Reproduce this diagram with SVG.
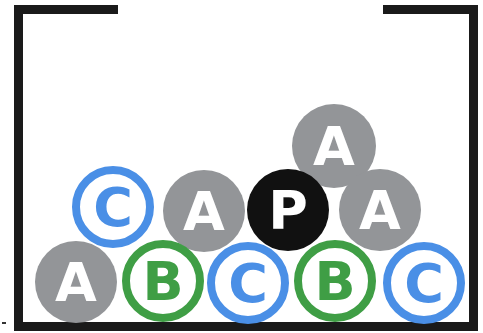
<svg xmlns="http://www.w3.org/2000/svg" width="483" height="333" viewBox="0 0 483 333">
<style>
.wall{fill:none;stroke:#1a1a1a;stroke-width:9;stroke-linejoin:miter}
.g{fill:#939598}
.k{fill:#111111}
.rb{fill:#ffffff;stroke:#4a8fe6;stroke-width:8}
.rg{fill:#ffffff;stroke:#3f9e45;stroke-width:8}
text{font-family:"DejaVu Sans","Verdana",sans-serif;font-weight:bold;font-size:54px;text-anchor:middle}
.tw{fill:#ffffff}
.tb{fill:#4a8fe6}
.tg{fill:#3f9e45}
</style>
<g id="container">
<path class="wall" d="M118,9.5 H18.5 V326.5 H473.5 V9.5 H383"/>
<rect x="2" y="322" width="4" height="2" fill="#333"/>
</g>
<g id="top-A"><circle class="g" cx="334" cy="146" r="42"/><text class="tw" x="334" y="165">A</text></g>
<g id="mid-C"><circle class="rb" cx="113" cy="207" r="37"/><text class="tb" x="113" y="226">C</text></g>
<g id="mid-A1"><circle class="g" cx="204" cy="211" r="41"/><text class="tw" x="204" y="230">A</text></g>
<g id="mid-P"><circle class="k" cx="288" cy="210" r="41"/><text class="tw" x="288" y="229">P</text></g>
<g id="mid-A2"><circle class="g" cx="380" cy="210" r="41"/><text class="tw" x="380" y="229">A</text></g>
<g id="bottom-A"><circle class="g" cx="76" cy="282" r="41"/><text class="tw" x="76" y="301">A</text></g>
<g id="bottom-B1"><circle class="rg" cx="163" cy="281" r="37"/><text class="tg" x="163" y="300">B</text></g>
<g id="bottom-C1"><circle class="rb" cx="248" cy="283" r="37"/><text class="tb" x="248" y="302">C</text></g>
<g id="bottom-B2"><circle class="rg" cx="335" cy="281" r="37"/><text class="tg" x="335" y="300">B</text></g>
<g id="bottom-C2"><circle class="rb" cx="424" cy="283" r="37"/><text class="tb" x="424" y="302">C</text></g>
</svg>
